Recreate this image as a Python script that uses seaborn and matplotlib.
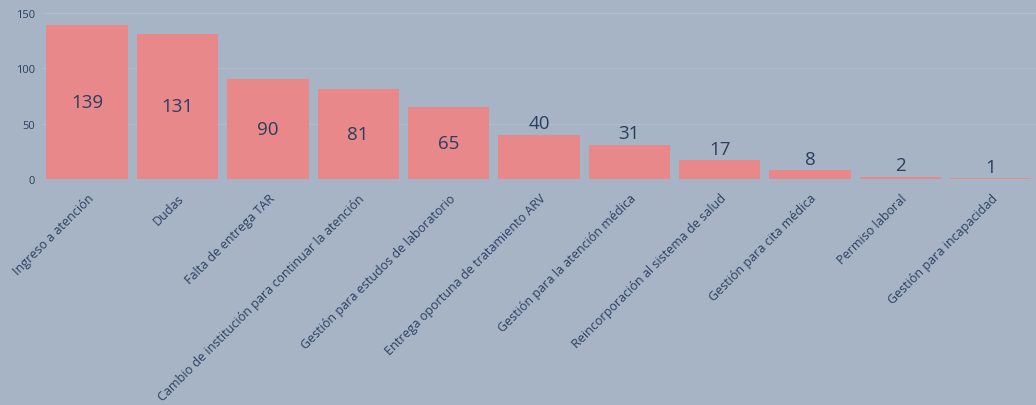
import matplotlib
matplotlib.use("Agg")
import matplotlib.pyplot as plt
import seaborn as sns
import pandas as pd

# Chart data
categories = [
    "Ingreso a atención",
    "Dudas",
    "Falta de entrega TAR",
    "Cambio de institución para continuar la atención",
    "Gestión para estudos de laboratorio",
    "Entrega oportuna de tratamiento ARV",
    "Gestión para la atención médica",
    "Reincorporación al sistema de salud",
    "Gestión para cita médica",
    "Permiso laboral",
    "Gestión para incapacidad",
]
counts = [139, 131, 90, 81, 65, 40, 31, 17, 8, 2, 1]
y_ticks = [0, 50, 100, 150]

df = pd.DataFrame({"motivo": categories, "total": counts})

bg = "#a7b4c5"
bar_color = "#e8888a"
text_color = "#2a3f5f"

sns.set_theme(style="white")
plt.rcParams["font.family"] = ["Open Sans", "DejaVu Sans"]

fig = plt.figure(figsize=(10.36, 4.06), dpi=100, facecolor=bg)
ax = fig.add_axes([0.0405, 0.557, 0.9595, 0.418])
ax.set_facecolor(bg)

sns.barplot(data=df, x="motivo", y="total", color=bar_color, width=0.9,
            saturation=1, linewidth=0, ax=ax, zorder=2)

ax.set_ylim(0, 153.6)
ax.set_xlim(-0.5, len(categories) - 0.5)
ax.set_yticks(y_ticks)
ax.set_yticklabels([str(t) for t in y_ticks], fontsize=8, color=text_color)
for t in y_ticks:
    ax.axhline(t, color="#b0bccb", lw=0.8, zorder=1)

ax.set_xticks(range(len(categories)))
ax.set_xticklabels(categories, rotation=45, ha="right", rotation_mode="anchor",
                   fontsize=9, color=text_color)
ax.tick_params(axis="x", length=0, pad=9)
ax.tick_params(axis="y", length=0, pad=5)
ax.set_xlabel("")
ax.set_ylabel("")
for s in ax.spines.values():
    s.set_visible(False)

# value labels: inside if the bar is tall enough, otherwise above
for i, v in enumerate(counts):
    if v >= 60:
        ax.text(i, v / 2, str(v), ha="center", va="center", fontsize=13.5,
                color=text_color, zorder=3)
    else:
        ax.text(i, v + 2, str(v), ha="center", va="bottom", fontsize=13.5,
                color=text_color, zorder=3)

fig.savefig("out.png", dpi=100, facecolor=bg)
